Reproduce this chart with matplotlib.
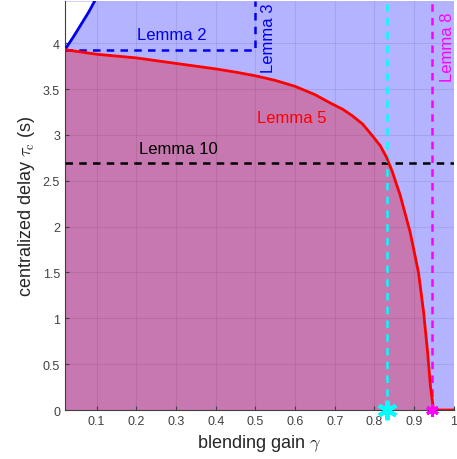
import numpy as np
import matplotlib.pyplot as plt

plt.rcParams['font.family'] = ['Liberation Sans', 'DejaVu Sans']
plt.rcParams['mathtext.fontset'] = 'cm'

# boundary (blending gain vs. centralized delay)
red_gamma = [0.02, 0.1, 0.2, 0.3, 0.4, 0.45, 0.5, 0.55, 0.6, 0.65, 0.688, 0.72,
             0.744, 0.77, 0.795, 0.815, 0.83, 0.845, 0.865, 0.89, 0.911, 0.924,
             0.934, 0.941, 0.949, 1.0]
red_tau = [3.93, 3.88, 3.84, 3.78, 3.72, 3.685, 3.645, 3.595, 3.53, 3.44, 3.35, 3.28,
           3.21, 3.12, 2.99, 2.88, 2.76, 2.60, 2.34, 1.94, 1.50, 1.065,
           0.63, 0.265, 0.0, 0.0]

blue_gamma = [0.02, 0.04, 0.06, 0.08, 0.095]
blue_tau = [3.93, 4.06, 4.20, 4.34, 4.46]

lemma2_gamma = [0.02, 0.5, 0.5]
lemma2_tau = [3.93, 3.93, 4.46]
lemma10_tau = 2.69
cyan_gamma = 0.832
lemma8_gamma = 0.944

xmin, xmax = 0.02, 1.0
ymin, ymax = 0.0, 4.46

fig = plt.figure(figsize=(4.57, 4.60), dpi=100)
ax = fig.add_axes([0.142, 0.1065, 0.851, 0.889])

blue_fill = '#b3b3ff'
purple_fill = '#c878b0'

ax.set_facecolor(blue_fill)
ax.fill_between(blue_gamma, blue_tau, ymax, color='white', lw=0, zorder=1)
ax.fill_between(red_gamma, 0, red_tau, color=purple_fill, lw=0, zorder=1)

ax.plot(blue_gamma, blue_tau, color='#0000ee', lw=2, zorder=3)
ax.plot(lemma2_gamma, lemma2_tau, color='#0000ee', lw=1.8, ls=(0, (3, 2.5)), zorder=3)
ax.plot([xmin, xmax], [lemma10_tau, lemma10_tau], color='black', lw=1.8,
        ls=(0, (3, 2.5)), zorder=3)
ax.plot([cyan_gamma, cyan_gamma], [ymin, ymax], color='cyan', lw=1.8,
        ls=(0, (3, 2.5)), zorder=3)
ax.plot([lemma8_gamma, lemma8_gamma], [ymin, ymax], color='magenta', lw=1.8,
        ls=(0, (3, 2.5)), zorder=3)
ax.plot(red_gamma, red_tau, color='red', lw=2, zorder=4)

ax.plot([cyan_gamma], [0], marker=(6, 2, 0), ms=14, mew=3, color='cyan',
        clip_on=False, zorder=5)
ax.plot([lemma8_gamma], [0], marker=(6, 2, 0), ms=9, mew=2.2, color='magenta',
        clip_on=False, zorder=5)

ax.text(0.29, 4.10, 'Lemma 2', color='#0000ee', fontsize=12, ha='center', va='center')
ax.text(0.532, 4.07, 'Lemma 3', color='#0000ee', fontsize=12, rotation=90,
        ha='center', va='center')
ax.text(0.592, 3.19, 'Lemma 5', color='red', fontsize=12, ha='center', va='center')
ax.text(0.305, 2.85, 'Lemma 10', color='black', fontsize=12, ha='center', va='center')
ax.text(0.984, 3.97, 'Lemma 8', color='magenta', fontsize=12, rotation=90,
        ha='center', va='center')

ax.set_xlim(xmin, xmax)
ax.set_ylim(ymin, ymax)
ax.set_xticks([0.1, 0.2, 0.3, 0.4, 0.5, 0.6, 0.7, 0.8, 0.9, 1.0])
ax.set_xticklabels(['0.1', '0.2', '0.3', '0.4', '0.5', '0.6', '0.7', '0.8', '0.9', '1'])
ax.set_yticks(np.arange(0, 4.01, 0.5))
ax.set_yticklabels(['0', '0.5', '1', '1.5', '2', '2.5', '3', '3.5', '4'])
ax.tick_params(direction='in', length=3, labelsize=9, colors='#404040')

ax.set_axisbelow(False)
ax.grid(True, color='black', alpha=0.08, lw=0.8)
for side in ['top', 'right']:
    ax.spines[side].set_visible(False)
for side in ['left', 'bottom']:
    ax.spines[side].set_color('#404040')
    ax.spines[side].set_linewidth(0.8)

ax.set_xlabel(r'blending gain $\gamma$', fontsize=13, color='#262626')
ax.set_ylabel(r'centralized delay $\tau_{\rm c}$ (s)', fontsize=13, color='#262626')

fig.savefig('out.png', dpi=100)
